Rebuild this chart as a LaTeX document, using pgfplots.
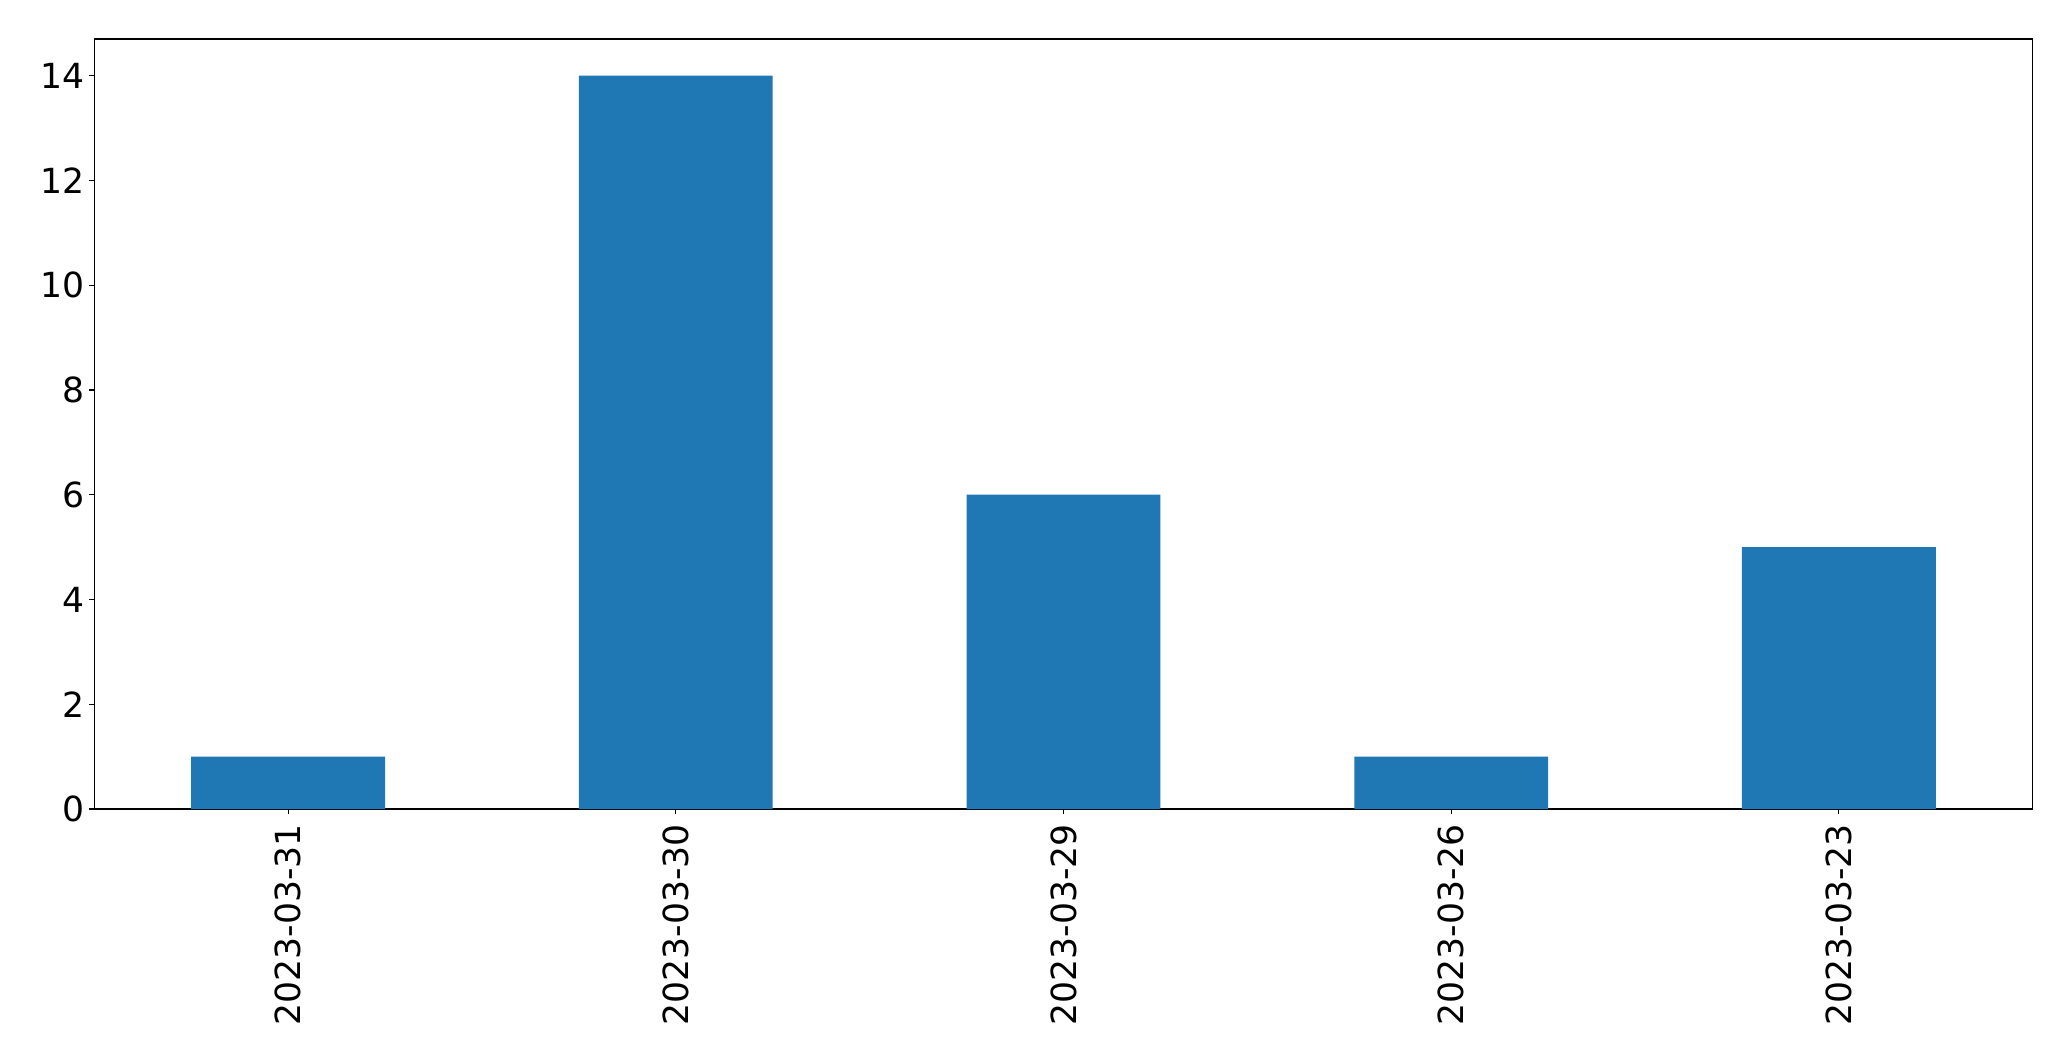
\documentclass[border=0pt]{standalone}
\usepackage{pgfplots}
\pgfplotsset{compat=1.18}
\usepackage{fontspec}
\setmainfont{DejaVu Sans}
\definecolor{mplblue}{HTML}{1F77B4}
\begin{document}
\begin{tikzpicture}
\begin{axis}[
  at={(0,0)}, anchor=south west,
  scale only axis,
  width=969.2pt, height=385pt,
  xmin=-0.5, xmax=4.5, ymin=0, ymax=14.7,
  xtick={0,1,2,3,4},
  xticklabels={2023-03-31,2023-03-30,2023-03-29,2023-03-26,2023-03-23},
  ytick={0,2,4,6,8,10,12,14},
  tick align=outside,
  major tick length=2.5pt,
  xtick pos=bottom, ytick pos=left,
  axis line style={line width=0.6pt},
  every tick/.style={black, line width=0.6pt},
  tick label style={font=\fontsize{17.3}{20}\selectfont},
  /pgf/number format/assume math mode=true,
  xticklabel style={yshift=-5pt, rotate=90, anchor=east, inner sep=0pt},
  yticklabel style={xshift=-2pt, anchor=east, inner sep=0pt},
  clip=false,
]
\addplot[ybar, bar width=0.5, fill=mplblue, draw=none, bar shift=0pt] coordinates {
  (0,1) (1,14) (2,6) (3,1) (4,5)
};
\end{axis}
\path[use as bounding box] (-47.15pt,-126pt) rectangle (988.35pt,404.5pt);
\end{tikzpicture}
\end{document}
